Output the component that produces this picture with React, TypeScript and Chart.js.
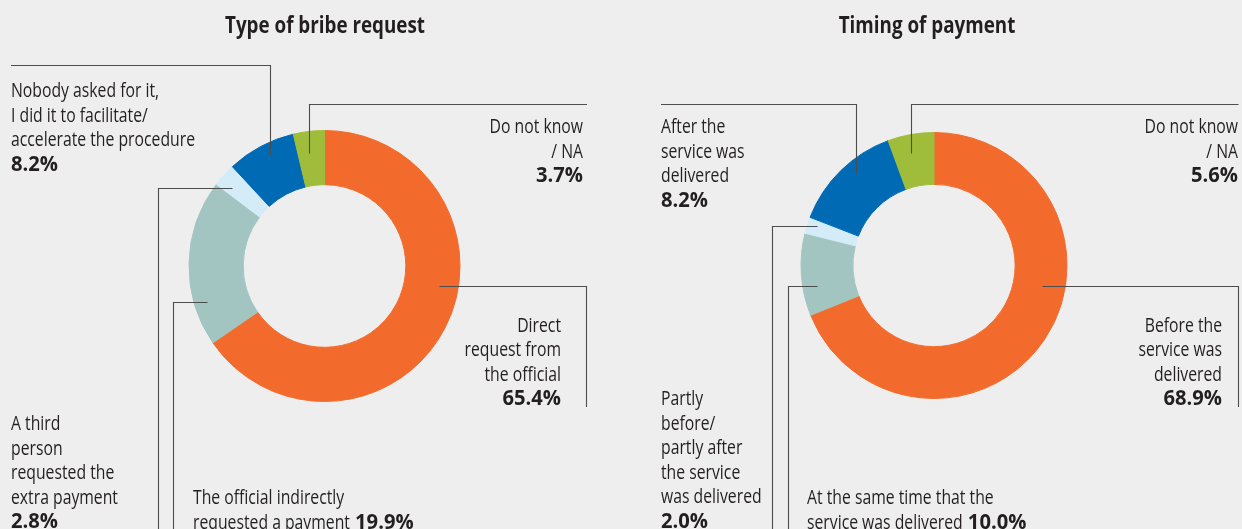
import React, { useEffect, useRef } from "react";
import { Chart, registerables } from "chart.js";

Chart.register(...registerables);

// ---------- DATA ----------
const bribeTitle = "Type of bribe request";
const bribeCategories = [
  "Direct request from the official",
  "The official indirectly requested a payment",
  "A third person requested the extra payment",
  "Nobody asked for it, I did it to facilitate/accelerate the procedure",
  "Do not know / NA",
];
const bribeValues = [65.4, 19.9, 2.8, 8.2, 3.7];
const bribePrinted = bribeValues.map((v) => v.toFixed(1) + "%");
const bribeLabelLines = [
  ["Direct", "request from", "the official"],
  ["The official indirectly", "requested a payment"],
  ["A third", "person", "requested the", "extra payment"],
  ["Nobody asked for it,", "I did it to facilitate/", "accelerate the procedure"],
  ["Do not know", "/ NA"],
];
const bribePctInline = [false, true, false, false, false];

const timingTitle = "Timing of payment";
const timingCategories = [
  "Before the service was delivered",
  "At the same time that the service was delivered",
  "Partly before/partly after the service was delivered",
  "After the service was delivered",
  "Do not know / NA",
];
// arc sizes as drawn in the reference
const timingValues = [68.9, 10.0, 2.0, 13.5, 5.6];
// percentages as printed in the reference
const timingPrinted = ["68.9%", "10.0%", "2.0%", "8.2%", "5.6%"];
const timingLabelLines = [
  ["Before the", "service was", "delivered"],
  ["At the same time that the", "service was delivered"],
  ["Partly", "before/", "partly after", "the service", "was delivered"],
  ["After the", "service was", "delivered"],
  ["Do not know", "/ NA"],
];
const timingPctInline = [false, true, false, false, false];

const sliceColors = ["#F36B2C", "#A2C5C1", "#D3ECF8", "#006AB4", "#9FBD3A"];

// ---------- STYLE / LAYOUT ----------
const BG = "#EEEEEE";
const TEXT = "#231F20";
const LINE = "#4D4D4D";
const H = 529;
const FONT_FAMILY = '"Open Sans", "Noto Sans", sans-serif';
const REG_FONT = `500 20.5px ${FONT_FAMILY}`;
const BOLD_FONT = `bold 20.5px ${FONT_FAMILY}`;
const TITLE_FONT = `bold 22.5px ${FONT_FAMILY}`;
const LINE_H = 24.5;

type Leader = { kind: "h" | "v"; angle: number; rFrac: number; bend: number; end: number };
type LabelPos = { x: number; y: number; align: "left" | "right"; leader: Leader };
type Spec = {
  width: number;
  title: string;
  titleX: number;
  categories: string[];
  values: number[];
  printed: string[];
  lines: string[][];
  inline: boolean[];
  cutout: string;
  padding: { left: number; right: number; top: number; bottom: number };
  labels: LabelPos[];
};

const bribeSpec: Spec = {
  width: 620,
  title: bribeTitle,
  titleX: 325,
  categories: bribeCategories,
  values: bribeValues,
  printed: bribePrinted,
  lines: bribeLabelLines,
  inline: bribePctInline,
  cutout: "60%",
  padding: { left: 188.5, right: 159.5, top: 130, bottom: 127 },
  labels: [
    { x: 561, y: 331.7, align: "right", leader: { kind: "h", angle: 99.9, rFrac: 0.64, bend: 586.5, end: 407 } },
    { x: 193, y: 504, align: "left", leader: { kind: "h", angle: 252.9, rFrac: 0.76, bend: 173.5, end: 545 } },
    { x: 11, y: 430, align: "left", leader: { kind: "h", angle: 310.1, rFrac: 0.74, bend: 158.5, end: 545 } },
    { x: 11, y: 97.3, align: "left", leader: { kind: "v", angle: 333.8, rFrac: 0.78, bend: 65.5, end: 11 } },
    { x: 583, y: 133.3, align: "right", leader: { kind: "v", angle: 352.4, rFrac: 0.6, bend: 104.5, end: 587 } },
  ],
};

const timingSpec: Spec = {
  width: 622,
  title: timingTitle,
  titleX: 307,
  categories: timingCategories,
  values: timingValues,
  printed: timingPrinted,
  lines: timingLabelLines,
  inline: timingPctInline,
  cutout: "61%",
  padding: { left: 180.5, right: 174.5, top: 132, bottom: 130 },
  labels: [
    { x: 602, y: 331.7, align: "right", leader: { kind: "h", angle: 100.7, rFrac: 0.56, bend: 618.5, end: 407 } },
    { x: 187, y: 504, align: "left", leader: { kind: "h", angle: 260, rFrac: 0.73, bend: 168.5, end: 545 } },
    { x: 41, y: 405, align: "left", leader: { kind: "h", angle: 288.8, rFrac: 0.82, bend: 152.5, end: 545 } },
    { x: 41, y: 133.3, align: "left", leader: { kind: "v", angle: 319.9, rFrac: 0.77, bend: 104.5, end: 41 } },
    { x: 618, y: 133.3, align: "right", leader: { kind: "v", angle: 348.3, rFrac: 0.65, bend: 104.5, end: 618.5 } },
  ],
};

// target widths used to condense the fallback font to the reference's narrow face
const REG_SAMPLE = { text: "accelerate the procedure", width: 184 };
const BOLD_SAMPLE = { text: "8.2%", width: 47 };
const TITLE_SAMPLE = { text: "Type of bribe request", width: 200 };

function scaleFor(ctx: CanvasRenderingContext2D, font: string, sample: { text: string; width: number }) {
  ctx.save();
  ctx.font = font;
  const w = ctx.measureText(sample.text).width;
  ctx.restore();
  return w > 0 ? sample.width / w : 1;
}

function drawText(
  ctx: CanvasRenderingContext2D,
  str: string,
  x: number,
  y: number,
  align: CanvasTextAlign,
  font: string,
  scale: number
) {
  ctx.save();
  ctx.font = font;
  ctx.textAlign = align;
  ctx.textBaseline = "alphabetic";
  ctx.fillStyle = TEXT;
  ctx.translate(x, y);
  ctx.scale(scale, 1);
  ctx.fillText(str, 0, 0);
  ctx.restore();
}

function makeAnnotatePlugin(spec: Spec) {
  return {
    id: "annotate",
    afterDraw(chart: any) {
      const ctx: CanvasRenderingContext2D = chart.ctx;
      const meta = chart.getDatasetMeta(0);
      const regScale = scaleFor(ctx, REG_FONT, REG_SAMPLE);
      const boldScale = scaleFor(ctx, BOLD_FONT, BOLD_SAMPLE);
      const titleScale = scaleFor(ctx, TITLE_FONT, TITLE_SAMPLE);

      // title
      drawText(ctx, spec.title, spec.titleX, 33.3, "center", TITLE_FONT, titleScale);

      spec.labels.forEach((lab, i) => {
        const arc = meta.data[i];
        if (!arc) return;
        const p = arc.getProps(["x", "y", "innerRadius", "outerRadius"], true);
        const r = p.innerRadius + lab.leader.rFrac * (p.outerRadius - p.innerRadius);
        const th = (lab.leader.angle * Math.PI) / 180;
        let ax = p.x + r * Math.sin(th);
        let ay = p.y - r * Math.cos(th);
        ax = Math.round(ax) + 0.5;
        ay = Math.round(ay) + 0.5;

        ctx.save();
        ctx.strokeStyle = LINE;
        ctx.lineWidth = 1.1;
        ctx.beginPath();
        ctx.moveTo(ax, ay);
        if (lab.leader.kind === "h") {
          ctx.lineTo(lab.leader.bend, ay);
          ctx.lineTo(lab.leader.bend, lab.leader.end);
        } else {
          ctx.lineTo(ax, lab.leader.bend);
          ctx.lineTo(lab.leader.end, lab.leader.bend);
        }
        ctx.stroke();
        ctx.restore();

        // text
        const lines = spec.lines[i];
        const pct = spec.printed[i];
        lines.forEach((ln, k) => {
          const y = lab.y + k * LINE_H;
          const isLast = k === lines.length - 1;
          if (isLast && spec.inline[i]) {
            ctx.save();
            ctx.font = REG_FONT;
            const wReg = ctx.measureText(ln + " ").width * regScale;
            ctx.restore();
            drawText(ctx, ln, lab.x, y, "left", REG_FONT, regScale);
            drawText(ctx, pct, lab.x + wReg + 1, y, "left", BOLD_FONT, boldScale);
          } else {
            drawText(ctx, ln, lab.x, y, lab.align, REG_FONT, regScale);
          }
        });
        if (!spec.inline[i]) {
          drawText(ctx, pct, lab.x, lab.y + lines.length * LINE_H, lab.align, BOLD_FONT, boldScale);
        }
      });
    },
  };
}

function Donut({ spec }: { spec: Spec }) {
  const ref = useRef<HTMLCanvasElement>(null);
  useEffect(() => {
    const canvas = ref.current;
    if (!canvas) return;
    const chart = new Chart(canvas, {
      type: "doughnut",
      data: {
        labels: spec.categories,
        datasets: [
          {
            data: spec.values,
            backgroundColor: sliceColors,
            borderColor: sliceColors,
            borderWidth: 1,
            hoverBorderWidth: 1,
            hoverOffset: 0,
            offset: 0,
          } as any,
        ],
      },
      options: {
        responsive: false,
        animation: false,
        devicePixelRatio: 1,
        cutout: spec.cutout,
        events: [],
        layout: { padding: spec.padding },
        plugins: {
          legend: { display: false },
          tooltip: { enabled: false },
          title: { display: false },
        },
      } as any,
      plugins: [makeAnnotatePlugin(spec)],
    });
    return () => chart.destroy();
  }, [spec]);
  return (
    <canvas
      ref={ref}
      width={spec.width}
      height={H}
      style={{ display: "block", width: spec.width, height: H }}
    />
  );
}

export default function App() {
  useEffect(() => {
    document.body.style.margin = "0";
    document.body.style.background = BG;
  }, []);
  return (
    <div style={{ display: "flex", width: 1242, height: H, background: BG, overflow: "hidden" }}>
      <Donut spec={bribeSpec} />
      <Donut spec={timingSpec} />
    </div>
  );
}
